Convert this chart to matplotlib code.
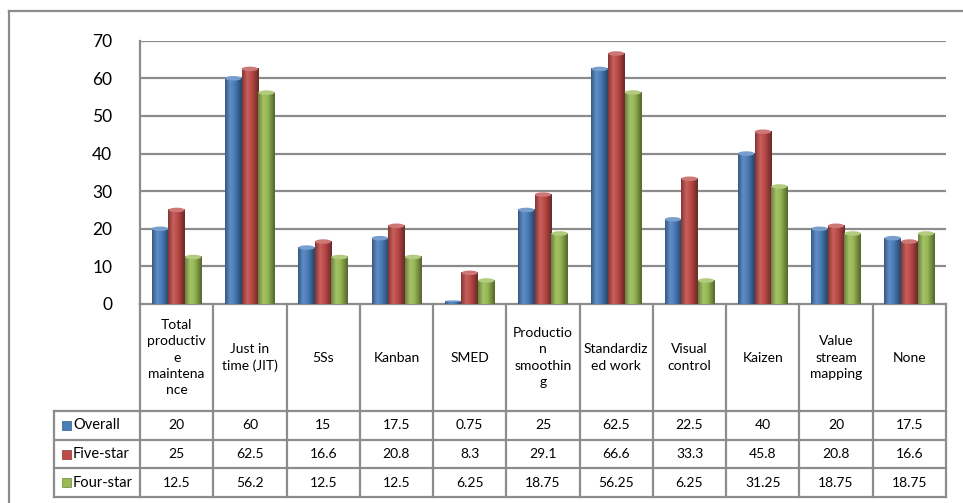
import numpy as np
import matplotlib
matplotlib.use("Agg")
import matplotlib.pyplot as plt
from matplotlib.colors import LinearSegmentedColormap, to_rgb
from matplotlib.patches import Ellipse
from matplotlib.transforms import blended_transform_factory

categories = ["Total\nproductiv\ne\nmaintena\nnce", "Just in\ntime (JIT)", "5Ss", "Kanban", "SMED",
              "Productio\nn\nsmoothin\ng", "Standardiz\ned work", "Visual\ncontrol", "Kaizen",
              "Value\nstream\nmapping", "None"]
series_names = ["Overall", "Five-star", "Four-star"]
overall = [20, 60, 15, 17.5, 0.75, 25, 62.5, 22.5, 40, 20, 17.5]
five_star = [25, 62.5, 16.6, 20.8, 8.3, 29.1, 66.6, 33.3, 45.8, 20.8, 16.6]
four_star = [12.5, 56.2, 12.5, 12.5, 6.25, 18.75, 56.25, 6.25, 31.25, 18.75, 18.75]
overall_lbl = ["20", "60", "15", "17.5", "0.75", "25", "62.5", "22.5", "40", "20", "17.5"]
five_lbl = ["25", "62.5", "16.6", "20.8", "8.3", "29.1", "66.6", "33.3", "45.8", "20.8", "16.6"]
four_lbl = ["12.5", "56.2", "12.5", "12.5", "6.25", "18.75", "56.25", "6.25", "31.25", "18.75", "18.75"]
yticks = [0, 10, 20, 30, 40, 50, 60, 70]

colors = ["#4A7EBB", "#BE4B48", "#98B954"]
series = [overall, five_star, four_star]
labels = [overall_lbl, five_lbl, four_lbl]

plt.rcParams['font.family'] = ['Lato', 'DejaVu Sans']

W, H = 963, 503
fig = plt.figure(figsize=(W / 100, H / 100), dpi=100)
fig.patch.set_facecolor("white")

def fy(px):
    return 1 - px / H

def fx(px):
    return px / W

ax_l, ax_r, ax_t, ax_b = 140, 946, 40.7, 304
ax = fig.add_axes([fx(ax_l), fy(ax_b), fx(ax_r - ax_l), (ax_b - ax_t) / H])
ax.set_facecolor("none")

GRID = "#8c8c8c"
n = len(categories)
x = np.arange(n)
bw = 0.227

def shade(c, f):
    r = np.array(to_rgb(c))
    if f >= 0:
        return tuple(r + (1 - r) * f)
    return tuple(r * (1 + f))

for si, (vals, col) in enumerate(zip(series, colors)):
    cmap = LinearSegmentedColormap.from_list(
        "g%d" % si,
        [(0, shade(col, -0.3)), (0.3, shade(col, 0.12)), (0.55, shade(col, 0.0)),
         (1.0, shade(col, -0.45))])
    grad = np.linspace(0, 1, 64).reshape(1, -1)
    for i, v in enumerate(vals):
        x0 = x[i] + (si - 1) * bw - bw / 2
        x1 = x0 + bw
        ax.imshow(grad, cmap=cmap, extent=[x0, x1, 0, v], aspect="auto",
                  origin="lower", zorder=3, interpolation="bilinear")
        cap_h = min(1.2, max(v * 0.6, 0.2))
        ax.add_patch(Ellipse((x0 + bw / 2, v), bw * 0.98, cap_h,
                             facecolor=shade(col, 0.25), edgecolor="none", zorder=4))

ax.set_xlim(-0.5, n - 0.5)
ax.set_ylim(0, 70)
ax.set_yticks(yticks)
ax.set_yticklabels([str(t) for t in yticks], fontsize=12.5)
ax.tick_params(axis="y", length=0, pad=20, colors="black")
ax.set_xticks([])
for yv in yticks[1:]:
    ax.axhline(yv, color=GRID, lw=1.6, zorder=1)
for s in ["top", "right", "bottom"]:
    ax.spines[s].set_visible(False)
ax.spines["left"].set_color(GRID)
ax.spines["left"].set_linewidth(1.6)

# Table
tr = blended_transform_factory(ax.transData, fig.transFigure)
tfig = fig.transFigure
row_edges = [304, 411, 439.7, 468.3, 497]
lw = 1.6
ax.plot([-0.5, n - 0.5], [fy(304)] * 2, color=GRID, lw=lw, transform=tr, clip_on=False)
for ry in row_edges[1:]:
    fig.add_artist(plt.Line2D([fx(54), fx(946)], [fy(ry)] * 2, color=GRID, lw=lw, transform=tfig))
for b in np.arange(n + 1) - 0.5:
    ax.plot([b, b], [fy(304), fy(497)], color=GRID, lw=lw, transform=tr, clip_on=False)
fig.add_artist(plt.Line2D([fx(54)] * 2, [fy(411), fy(497)], color=GRID, lw=lw, transform=tfig))

for i, c in enumerate(categories):
    ax.text(x[i], fy(357.5), c, transform=tr, ha="center", va="center",
            fontsize=10, linespacing=1.42, clip_on=False)

for ri in range(3):
    yc = (row_edges[ri + 1] + row_edges[ri + 2]) / 2
    for i in range(n):
        ax.text(x[i], fy(yc), labels[ri][i], transform=tr, ha="center", va="center",
                fontsize=10, clip_on=False)
    fig.add_artist(plt.Rectangle((fx(62), fy(yc + 4.5)), fx(9), 9 / H,
                                 facecolor=colors[ri], edgecolor=shade(colors[ri], -0.3),
                                 lw=0.5, transform=tfig))
    fig.text(fx(73), fy(yc), series_names[ri], ha="left", va="center", fontsize=10.5)

fig.add_artist(plt.Line2D([fx(9), fx(963)], [fy(11)] * 2, color=GRID, lw=1.6, transform=tfig))
fig.add_artist(plt.Line2D([fx(9)] * 2, [fy(11), fy(503)], color=GRID, lw=1.6, transform=tfig))

fig.savefig("out.png", dpi=100, facecolor="white")
